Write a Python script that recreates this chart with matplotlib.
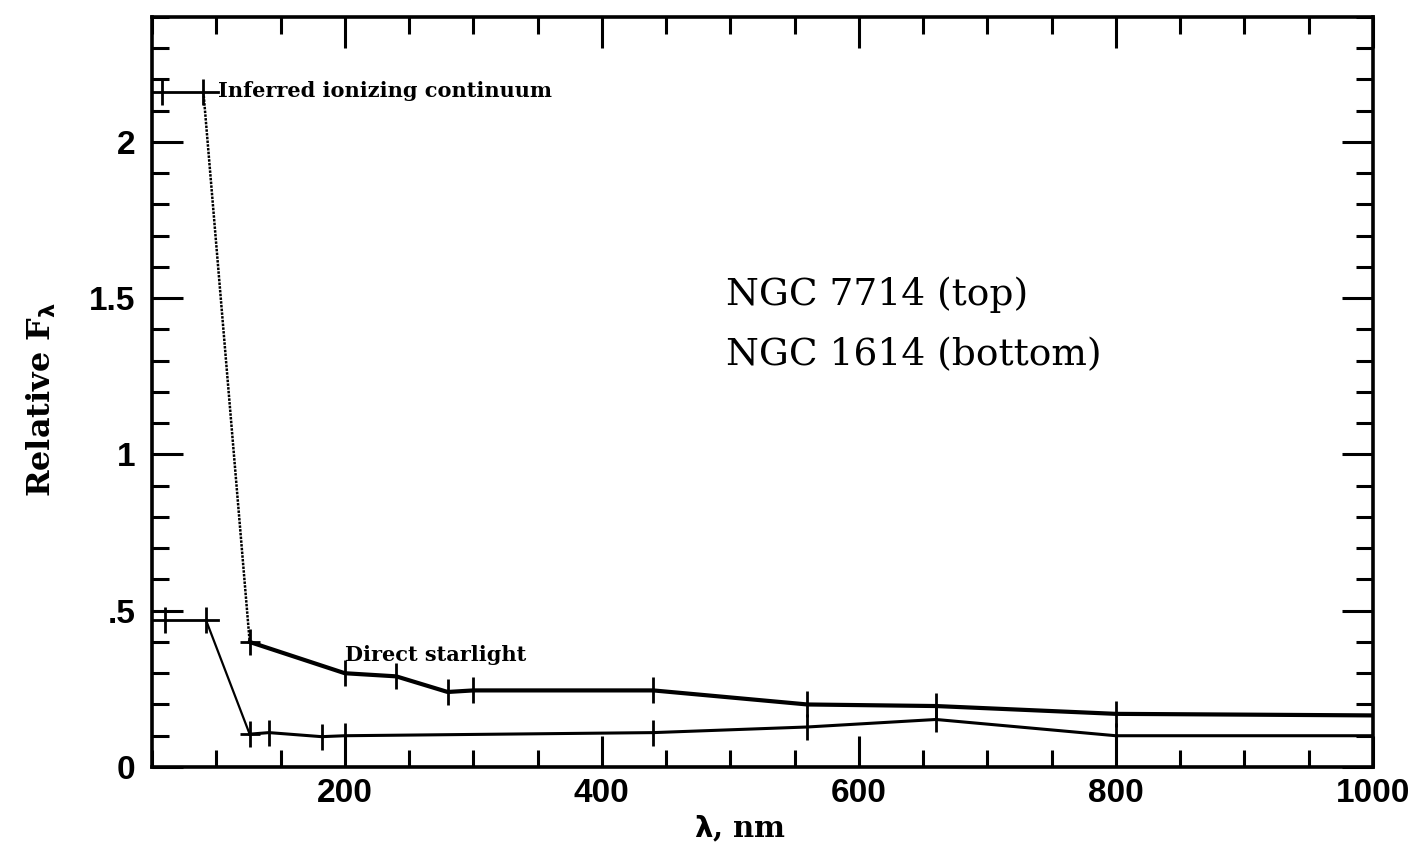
import numpy as np
import matplotlib.pyplot as plt
from matplotlib.ticker import MultipleLocator

# NGC 7714 (top curve): wavelength in nm, relative F_lambda
top_x = [58, 90, 126, 200, 240, 280, 300, 440, 560, 660, 800, 1000]
top_y = [2.16, 2.16, 0.40, 0.30, 0.29, 0.24, 0.245, 0.245, 0.20, 0.195, 0.17, 0.165]
top_bin = [50, 101]          # horizontal extent of the ionizing bin

# NGC 1614 (bottom curve)
bot_x = [60, 92, 126, 141, 182, 200, 440, 560, 660, 800, 1000]
bot_y = [0.47, 0.47, 0.105, 0.11, 0.097, 0.10, 0.11, 0.128, 0.152, 0.10, 0.10]
bot_bin = [50, 101]

yticks = [0, 0.5, 1, 1.5, 2]
ylabels = ['0', '.5', '1', '1.5', '2']
xticks = [200, 400, 600, 800, 1000]

fig = plt.figure(figsize=(14.26, 8.46), dpi=100)
ax = fig.add_axes([0.1066, 0.0934, 0.8562, 0.8866])

# ionizing bins (horizontal bars)
ax.plot(top_bin, [top_y[0], top_y[0]], color='black', lw=2)
ax.plot(bot_bin, [bot_y[0], bot_y[0]], color='black', lw=2)

# steep drop from ionizing bin to first UV point
ax.plot(top_x[1:3], top_y[1:3], color='black', lw=1.8, ls=(0, (1, 0.5)))
ax.plot(bot_x[1:3], bot_y[1:3], color='black', lw=1.6)

# direct starlight parts
ax.plot(top_x[2:], top_y[2:], color='black', lw=3)
ax.plot(bot_x[2:], bot_y[2:], color='black', lw=2.2)

# crosses at measured points
ax.plot(top_x[:-1], top_y[:-1], ls='none', marker='|', ms=19, mew=2, color='black')
ax.plot(bot_x[:-1], bot_y[:-1], ls='none', marker='|', ms=19, mew=2, color='black')
ax.plot(top_x[2:3], top_y[2:3], ls='none', marker='_', ms=14, mew=2, color='black')
ax.plot(bot_x[2:3], bot_y[2:3], ls='none', marker='_', ms=14, mew=2, color='black')

ax.text(101, 2.163, 'Inferred ionizing continuum', family='DejaVu Serif',
        fontsize=15, fontweight='bold', va='center', ha='left')
ax.text(200, 0.359, 'Direct starlight', family='DejaVu Serif',
        fontsize=15, fontweight='bold', va='center', ha='left')
ax.text(497, 1.51, 'NGC 7714 (top)', family='DejaVu Serif', fontsize=27,
        va='center', ha='left', fontweight='light')
ax.text(497, 1.317, 'NGC 1614 (bottom)', family='DejaVu Serif', fontsize=27,
        va='center', ha='left', fontweight='light')

ax.set_xlim(50, 1000)
ax.set_ylim(0, 2.4)
ax.set_xticks(xticks)
ax.set_xticklabels([str(t) for t in xticks])
ax.set_yticks(yticks)
ax.set_yticklabels(ylabels)
ax.xaxis.set_minor_locator(MultipleLocator(50))
ax.yaxis.set_minor_locator(MultipleLocator(0.1))

ax.tick_params(which='both', direction='in', top=True, right=True, width=2.2)
ax.tick_params(which='major', length=22)
ax.tick_params(axis='x', which='major', pad=8)
ax.tick_params(axis='y', which='major', pad=12)
ax.tick_params(which='minor', length=12)
for lab in ax.get_xticklabels() + ax.get_yticklabels():
    lab.set_family('Liberation Sans')
    lab.set_fontweight('bold')
    lab.set_fontsize(24)
for sp in ax.spines.values():
    sp.set_linewidth(2.6)

ax.set_xlabel(r'$\mathbf{\lambda}$, nm', family='DejaVu Serif', fontweight='bold',
              fontsize=21)
ax.xaxis.set_label_coords(0.482, -0.062)
ax.set_ylabel(r'Relative F$_{\mathbf{\lambda}}$', family='DejaVu Serif',
              fontweight='bold', fontsize=23)
ax.yaxis.set_label_coords(-0.077, 0.49)

fig.savefig('out.png', dpi=100)
